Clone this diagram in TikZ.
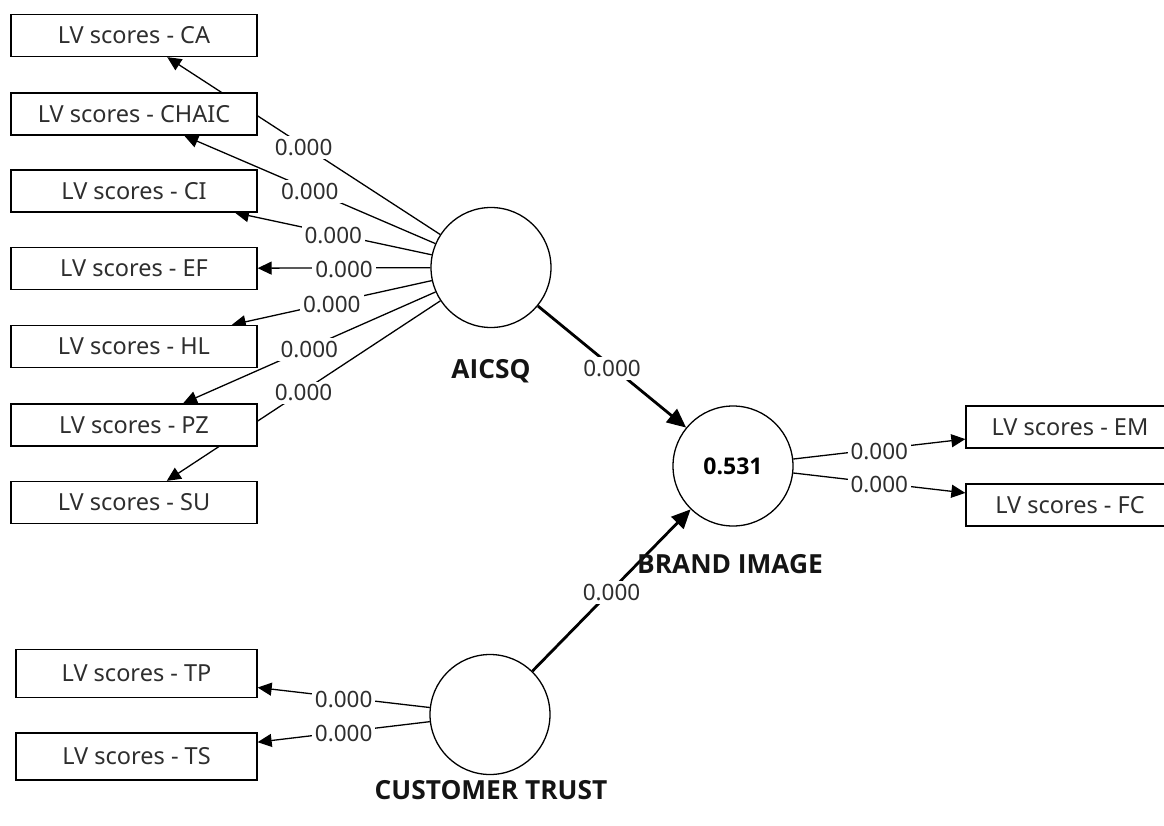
\documentclass[tikz,border=0pt]{standalone}
\usepackage{fontspec}
\setmainfont{Noto Sans}
\newfontfamily\lvbold{Open Sans}
\usetikzlibrary{arrows.meta}
\pgfdeclarelayer{bg}
\pgfsetlayers{bg,main}
\begin{document}
\begin{tikzpicture}[x=1pt,y=-1pt,
  ind/.style={draw, fill=white, line width=1.3pt, minimum width=246pt, minimum height=42pt, inner sep=0pt, font=\fontsize{23.5}{27}\selectfont, text=black!82},
  lv/.style={circle, draw, fill=white, line width=1.3pt, minimum size=120pt, inner sep=0pt},
  lvname/.style={font=\lvbold\fontsize{26.3}{31}\selectfont\bfseries, text=black!92},
  ld/.style={line width=1.3pt, -{Triangle[length=14pt,width=13pt]}},
  pth/.style={line width=2.8pt, -{Triangle[length=19pt,width=17pt]}},
  wt/.style={fill=white, inner sep=3pt, yshift=-2pt, font=\fontsize{22.5}{26}\selectfont, text=black!82}
]
\useasboundingbox (0,0) rectangle (1164,825);

% latent variables
\node[lv] (aicsq) at (491,267.5) {};
\node[lv] (brand) at (733,466) {\lvbold\fontsize{23}{27}\selectfont\bfseries 0.531};
\node[lv] (trust) at (490,714.5) {};

\node[lvname] (laicsq) at (491,371) {AICSQ};
\node[lvname] (lbrand) at (730,564) {BRAND IMAGE};
\node[lvname] (ltrust) at (491,790) {CUSTOMER TRUST};

% indicators
\node[ind] (ca)    at (134,35.5)  {LV scores - CA};
\node[ind] (chaic) at (134,114)   {LV scores - CHAIC};
\node[ind] (ci)    at (134,191)   {LV scores - CI};
\node[ind] (ef)    at (134,268.5) {LV scores - EF};
\node[ind] (hl)    at (134,346.5) {LV scores - HL};
\node[ind] (pz)    at (134,425)   {LV scores - PZ};
\node[ind] (su)    at (134,502.5) {LV scores - SU};

\node[ind, minimum width=208pt] (em) at (1070,427) {LV scores - EM};
\node[ind, minimum width=208pt] (fc) at (1070,505) {LV scores - FC};

\node[ind, minimum width=241pt, minimum height=48pt] (tp) at (136.5,673.5) {LV scores - TP};
\node[ind, minimum width=241pt, minimum height=47pt] (ts) at (136.5,756.5) {LV scores - TS};

\begin{pgfonlayer}{bg}
\fill[white] (0,0) rectangle (1164,825);
\draw[ld] (aicsq) -- node[wt]{0.000} (ca);
\draw[ld] (aicsq) -- node[wt]{0.000} (chaic);
\draw[ld] (aicsq) -- node[wt]{0.000} (ci);
\draw[ld] (aicsq) -- node[wt]{0.000} (ef);
\draw[ld] (aicsq) -- node[wt]{0.000} (hl);
\draw[ld] (aicsq) -- node[wt]{0.000} (pz);
\draw[ld] (aicsq) -- node[wt]{0.000} (su);

\draw[ld] (brand) -- node[wt]{0.000} (em);
\draw[ld] (brand) -- node[wt]{0.000} (fc);

\draw[ld] (trust) -- node[wt]{0.000} (tp);
\draw[ld] (trust) -- node[wt]{0.000} (ts);

\draw[pth] (aicsq) -- node[wt]{0.000} (brand);
\draw[pth] (trust) -- node[wt]{0.000} (brand);
\end{pgfonlayer}
\end{tikzpicture}
\end{document}
